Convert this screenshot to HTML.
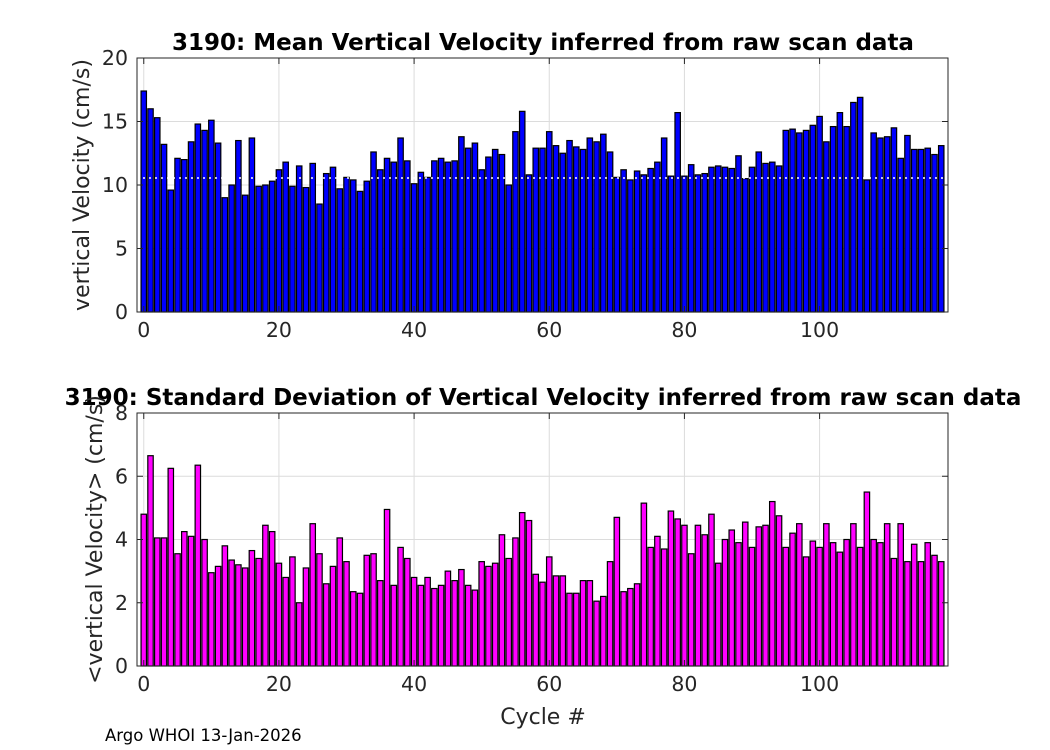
<!DOCTYPE html>
<html><head><meta charset="utf-8"><style>
html,body{margin:0;padding:0;background:#fff;width:1050px;height:750px;overflow:hidden}
svg text{font-family:"DejaVu Sans","Liberation Sans",sans-serif}
</style></head><body>
<svg id="fig" width="1050" height="750" xmlns="http://www.w3.org/2000/svg"></svg>
<script>
const meanCycles = Array.from({length:119},(_,i)=>i);
const meanValues = [17.4,16.0,15.3,13.2,9.6,12.1,12.0,13.4,14.8,14.3,15.1,13.3,9.0,10.0,13.5,9.2,13.7,9.9,10.0,10.3,11.2,11.8,9.9,11.5,9.8,11.7,8.5,10.9,11.4,9.7,10.6,10.4,9.5,10.3,12.6,11.2,12.1,11.8,13.7,11.9,10.1,11.0,10.6,11.9,12.1,11.8,11.9,13.8,12.9,13.3,11.2,12.2,12.8,12.4,10.0,14.2,15.8,10.8,12.9,12.9,14.2,13.1,12.5,13.5,13.0,12.8,13.7,13.4,14.0,12.6,10.6,11.2,10.4,11.1,10.8,11.3,11.8,13.7,10.7,15.7,10.7,11.6,10.8,10.9,11.4,11.5,11.4,11.3,12.3,10.5,11.4,12.6,11.7,11.8,11.5,14.3,14.4,14.1,14.3,14.7,15.4,13.4,14.6,15.7,14.6,16.5,16.9,10.4,14.1,13.7,13.8,14.5,12.1,13.9,12.8,12.8,12.9,12.4,13.1];
const stdValues = [4.8,6.65,4.05,4.05,6.25,3.55,4.25,4.1,6.35,4.0,2.95,3.15,3.8,3.35,3.2,3.1,3.65,3.4,4.45,4.25,3.25,2.8,3.45,2.0,3.1,4.5,3.55,2.6,3.15,4.05,3.3,2.35,2.3,3.5,3.55,2.7,4.95,2.55,3.75,3.4,2.8,2.55,2.8,2.45,2.55,3.0,2.7,3.05,2.55,2.4,3.3,3.15,3.25,4.15,3.4,4.05,4.85,4.6,2.9,2.65,3.45,2.85,2.85,2.3,2.3,2.7,2.7,2.05,2.2,3.3,4.7,2.35,2.45,2.6,5.15,3.75,4.1,3.7,4.9,4.65,4.45,3.55,4.45,4.15,4.8,3.25,4.0,4.3,3.9,4.55,3.75,4.4,4.45,5.2,4.75,3.75,4.2,4.5,3.45,3.95,3.75,4.5,3.9,3.6,4.0,4.5,3.75,5.5,4.0,3.9,4.5,3.4,4.5,3.3,3.85,3.3,3.9,3.5,3.3];
const xTicks = [0,20,40,60,80,100];
const meanYTicks = [0,5,10,15,20];
const stdYTicks = [0,2,4,6,8];
const meanLine = [10.55];

const NS="http://www.w3.org/2000/svg";
const svg=document.getElementById('fig');
function mk(tag,attrs,parent){const e=document.createElementNS(NS,tag);for(const k in attrs)e.setAttribute(k,attrs[k]);(parent||svg).appendChild(e);return e;}

function panel(opt){
  const L=137,R=948,T=opt.top,B=opt.bottom;
  const xs=v=>L+(v+1)/120*(R-L);
  const ys=v=>B-(v-opt.ymin)/(opt.ymax-opt.ymin)*(B-T);
  const g=mk('g',{});
  
  
  mk('rect',{x:L,y:T,width:R-L,height:B-T,fill:'#fff'},g);
  xTicks.forEach(t=>{const l=mk('line',{x1:xs(t),x2:xs(t),y1:T,y2:B,stroke:'#dcdcdc','stroke-width':1},g);
    });
  opt.yticks.forEach(t=>{const l=mk('line',{x1:L,x2:R,y1:ys(t),y2:ys(t),stroke:'#dcdcdc','stroke-width':1},g);
    });
  const bw=0.8*(R-L)/120;
  opt.values.forEach((v,i)=>{const c=meanCycles[i];
    const r=mk('rect',{x:xs(c)-bw/2,y:ys(v),width:bw,height:ys(0)-ys(v),fill:opt.color,stroke:'#000','stroke-width':1.2},g);
    });
  if(opt.hline){opt.hline.forEach(h=>{const l=mk('line',{x1:L,x2:R,y1:ys(h),y2:ys(h),stroke:'#fff','stroke-width':1.5,'stroke-dasharray':'2,4'},g);
    });}
  mk('rect',{x:L,y:T,width:R-L,height:B-T,fill:'none',stroke:'#262626','stroke-width':1},g);
  xTicks.forEach(t=>{mk('line',{x1:xs(t),x2:xs(t),y1:B,y2:B-6,stroke:'#262626'},g);mk('line',{x1:xs(t),x2:xs(t),y1:T,y2:T+6,stroke:'#262626'},g);
    const tx=mk('text',{x:xs(t),y:B+25,'text-anchor':'middle','font-size':20.5,fill:'#262626'},g);tx.textContent=t;
    });
  opt.yticks.forEach(t=>{mk('line',{x1:L,x2:L+6,y1:ys(t),y2:ys(t),stroke:'#262626'},g);mk('line',{x1:R,x2:R-6,y1:ys(t),y2:ys(t),stroke:'#262626'},g);
    const tx=mk('text',{x:L-9,y:ys(t)+7,'text-anchor':'end','font-size':20.5,fill:'#262626'},g);tx.textContent=t;
    });
  const ti=mk('text',{x:543,y:T-8,'text-anchor':'middle','font-size':23,'font-weight':'bold',fill:'#000'},g);ti.textContent=opt.title;
  
  const yl=mk('text',{x:0,y:0,'text-anchor':'middle','font-size':22,fill:'#262626',transform:`translate(${opt.ylx},${(T+B)/2}) rotate(-90)`},g);yl.textContent=opt.ylabel;
  
}
panel({name:'mean-velocity-chart',top:58,bottom:312,ymin:0,ymax:20,yticks:meanYTicks,values:meanValues,color:'#0000ff',hline:meanLine,
  title:'3190: Mean Vertical Velocity inferred from raw scan data',ylabel:'vertical Velocity (cm/s)',ylx:89});
panel({name:'std-velocity-chart',top:413,bottom:666,ymin:0,ymax:8,yticks:stdYTicks,values:stdValues,color:'#ff00ff',
  title:'3190: Standard Deviation of Vertical Velocity inferred from raw scan data',ylabel:'<vertical Velocity> (cm/s)',ylx:102});
const xl=mk('text',{x:543,y:724,'text-anchor':'middle','font-size':22,fill:'#262626'});xl.textContent='Cycle #';


const ft=mk('text',{x:105,y:741,'font-size':16.5,fill:'#000'});ft.textContent='Argo WHOI 13-Jan-2026';


</script>
</body></html>
